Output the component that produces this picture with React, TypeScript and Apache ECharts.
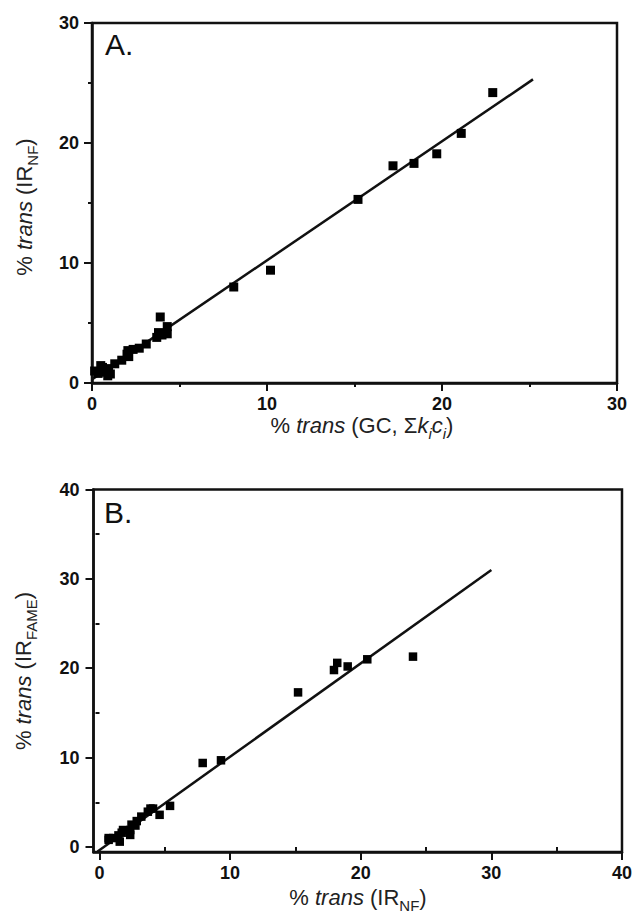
import { useEffect, useRef } from 'react';
import * as echarts from 'echarts';

// Panel A: % trans by GC (x) vs IR_NF (y)
const A_GC = [22.9, 21.1, 19.7, 18.4, 17.2, 15.2, 10.2, 8.1, 3.9, 4.3, 4.0, 3.8, 4.3, 3.7, 3.1, 2.7, 2.35, 2.05, 2.0, 2.1, 1.7, 1.3, 0.95, 0.5, 0.35, 0.75, 1.05, 0.15, 0.6, 0.9];
const A_IRNF = [24.2, 20.8, 19.1, 18.3, 18.1, 15.3, 9.4, 8.0, 5.5, 4.7, 4.0, 4.2, 4.1, 3.8, 3.25, 2.9, 2.8, 2.7, 2.4, 2.2, 1.9, 1.6, 1.2, 1.45, 0.8, 0.9, 0.75, 1.0, 1.3, 0.6];
const A_FIT_X = [0, 25.2];
const A_FIT_Y = [0.3, 25.3];

// Panel B: % trans by IR_NF (x) vs IR_FAME (y)
const B_IRNF = [24.0, 20.5, 19.0, 18.2, 17.95, 15.2, 9.3, 7.9, 5.4, 4.6, 4.1, 3.9, 3.7, 3.2, 2.85, 2.75, 2.45, 2.35, 2.35, 1.8, 1.7, 1.45, 1.55, 1.05, 0.7, 0.7];
const B_FAME = [21.3, 21.0, 20.2, 20.6, 19.8, 17.3, 9.7, 9.4, 4.6, 3.6, 4.3, 4.3, 3.95, 3.4, 2.9, 2.4, 2.5, 1.9, 1.35, 1.9, 1.6, 1.3, 0.6, 1.0, 0.8, 1.0];
const B_FIT_X = [-0.15, 30];
const B_FIT_Y = [-0.5, 31.0];

const B_MAJOR = [0, 10, 20, 30, 40];
const B_MINOR = [5, 15, 25, 35];

const INK = '#111';
const FONT = 'Liberation Sans, Arial, sans-serif';

const zip = (xs: number[], ys: number[]) => xs.map((x, i) => [x, ys[i]]);

const titleRich = {
  n: { fontSize: 22, fontFamily: FONT, fill: '#222', lineHeight: 26, verticalAlign: 'top' },
  i: { fontSize: 22, fontFamily: FONT, fill: '#222', fontStyle: 'italic', lineHeight: 26, verticalAlign: 'top' },
  s: { fontSize: 15, fontFamily: FONT, fill: '#222', lineHeight: 16, padding: [12, 0, 0, 0], verticalAlign: 'top' },
  si: { fontSize: 15, fontFamily: FONT, fill: '#222', fontStyle: 'italic', lineHeight: 16, padding: [12, 0, 0, 0], verticalAlign: 'top' },
};

const axisCommon = (gridIndex: number, min: number, max: number, margin: number) => ({
  type: 'value',
  gridIndex,
  min,
  max,
  axisLine: { show: true, onZero: false, lineStyle: { color: INK, width: 2.5 } },
  axisTick: { show: true, length: 8, lineStyle: { color: INK, width: 2 } },
  splitLine: { show: false },
  axisLabel: { color: INK, fontFamily: FONT, fontWeight: 'bold', fontSize: 18, margin },
});

const minorAxis = (gridIndex: number, min: number, max: number) => ({
  type: 'value',
  gridIndex,
  min,
  max,
  axisLine: { show: false },
  axisLabel: { show: false },
  splitLine: { show: false },
  axisTick: { show: true, length: 4, customValues: B_MINOR, lineStyle: { color: INK, width: 2 } },
});

export default function App() {
  const ref = useRef<HTMLDivElement>(null);
  useEffect(() => {
    if (!ref.current) return;
    const chart = echarts.init(ref.current, null, { renderer: 'svg' });
    const aMinor = { show: true, splitNumber: 2, length: 4, lineStyle: { color: INK, width: 2 } };
    chart.setOption({
      animation: false,
      backgroundColor: '#fff',
      grid: [
        { left: 92, top: 23, width: 525, height: 360, show: true, borderColor: INK, borderWidth: 2.5, backgroundColor: 'transparent' },
        { left: 93.5, top: 489.5, width: 529, height: 362.5, show: true, borderColor: INK, borderWidth: 2.5, backgroundColor: 'transparent' },
      ],
      xAxis: [
        { ...axisCommon(0, 0, 30, 12), position: 'bottom', interval: 10, minorTick: aMinor },
        {
          ...axisCommon(1, -0.46, 40, 12),
          position: 'bottom',
          axisTick: { show: true, length: 8, customValues: B_MAJOR, lineStyle: { color: INK, width: 2 } },
          axisLabel: { color: INK, fontFamily: FONT, fontWeight: 'bold', fontSize: 18, margin: 12, customValues: B_MAJOR },
        },
        { ...minorAxis(1, -0.46, 40), position: 'bottom' },
      ],
      yAxis: [
        { ...axisCommon(0, 0, 30, 13), position: 'left', interval: 10, minorTick: aMinor },
        {
          ...axisCommon(1, -0.56, 40, 14),
          position: 'left',
          axisTick: { show: true, length: 8, customValues: B_MAJOR, lineStyle: { color: INK, width: 2 } },
          axisLabel: { color: INK, fontFamily: FONT, fontWeight: 'bold', fontSize: 18, margin: 14, customValues: B_MAJOR },
        },
        { ...minorAxis(1, -0.56, 40), position: 'left' },
      ],
      series: [
        {
          type: 'line', xAxisIndex: 0, yAxisIndex: 0, data: zip(A_FIT_X, A_FIT_Y),
          showSymbol: false, lineStyle: { color: INK, width: 2.5 }, z: 2,
        },
        {
          type: 'scatter', xAxisIndex: 0, yAxisIndex: 0, data: zip(A_GC, A_IRNF),
          symbol: 'rect', symbolSize: 9, itemStyle: { color: '#000', opacity: 1 }, z: 3,
        },
        {
          type: 'line', xAxisIndex: 1, yAxisIndex: 1, data: zip(B_FIT_X, B_FIT_Y),
          showSymbol: false, lineStyle: { color: INK, width: 2.5 }, z: 2,
        },
        {
          type: 'scatter', xAxisIndex: 1, yAxisIndex: 1, data: zip(B_IRNF, B_FAME),
          symbol: 'rect', symbolSize: 8.5, itemStyle: { color: '#000', opacity: 1 }, z: 3,
        },
      ],
      graphic: [
        { type: 'text', x: 105, y: 44, style: { text: 'A.', fontSize: 30, fontFamily: FONT, fill: INK, align: 'left', verticalAlign: 'middle' } },
        { type: 'text', x: 104, y: 512.5, style: { text: 'B.', fontSize: 30, fontFamily: FONT, fill: INK, align: 'left', verticalAlign: 'middle' } },
        {
          type: 'text', x: 362, y: 427,
          style: { text: '{n|% }{i|trans}{n| (GC, Σ}{i|k}{si|i}{i|c}{si|i}{n|)}', rich: titleRich, align: 'center', verticalAlign: 'middle' },
        },
        {
          type: 'text', x: 26, y: 207, rotation: Math.PI / 2,
          style: { text: '{n|% }{i|trans}{n| (IR}{s|NF}{n|)}', rich: titleRich, align: 'center', verticalAlign: 'middle' },
        },
        {
          type: 'text', x: 25, y: 671, rotation: Math.PI / 2,
          style: { text: '{n|% }{i|trans}{n| (IR}{s|FAME}{n|)}', rich: titleRich, align: 'center', verticalAlign: 'middle' },
        },
        {
          type: 'text', x: 358, y: 899,
          style: { text: '{n|% }{i|trans}{n| (IR}{s|NF}{n|)}', rich: titleRich, align: 'center', verticalAlign: 'middle' },
        },
      ],
    });
    return () => chart.dispose();
  }, []);
  return <div ref={ref} style={{ position: 'fixed', left: 0, top: 0, width: 635, height: 914 }} />;
}
